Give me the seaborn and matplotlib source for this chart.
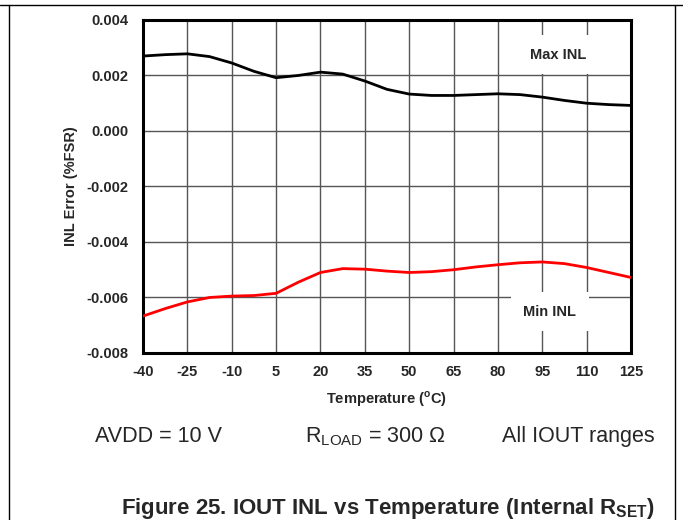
import numpy as np
import pandas as pd
import seaborn as sns
import matplotlib.pyplot as plt
from matplotlib.lines import Line2D

# Data
temp = [-40, -32.5, -25, -17.5, -10, -2.5, 5, 12.5, 20, 27.5, 35, 42.5, 50,
        57.5, 65, 72.5, 80, 87.5, 95, 102.5, 110, 117.5, 125]
max_inl = [0.00270, 0.00275, 0.00278, 0.00268, 0.00245, 0.00215, 0.00192, 0.00200, 0.00212,
           0.00205, 0.00180, 0.00150, 0.00133, 0.00128, 0.00128, 0.00131, 0.00134, 0.00131,
           0.00122, 0.00110, 0.00100, 0.00095, 0.00092]
min_inl = [-0.00667, -0.00640, -0.00616, -0.00600, -0.00595, -0.00593, -0.00585, -0.00545,
           -0.00510, -0.00496, -0.00498, -0.00505, -0.00510, -0.00507, -0.00500, -0.00490,
           -0.00482, -0.00475, -0.00472, -0.00478, -0.00492, -0.00510, -0.00528]
x_ticks = [-40, -25, -10, 5, 20, 35, 50, 65, 80, 95, 110, 125]
y_ticks = [-0.008, -0.006, -0.004, -0.002, 0.0, 0.002, 0.004]

df = pd.DataFrame({"temp": temp * 2,
                   "inl": max_inl + min_inl,
                   "series": ["Max INL"] * len(temp) + ["Min INL"] * len(temp)})

sns.set_style("white")
plt.rcParams['font.family'] = ['Liberation Sans', 'DejaVu Sans']

fig = plt.figure(figsize=(6.83, 5.20), dpi=100)
ax = fig.add_axes([0.2094, 0.3212, 0.7145, 0.6404])

sns.lineplot(data=df, x="temp", y="inl", hue="series",
             palette={"Max INL": "black", "Min INL": "#ff0000"},
             linewidth=2, legend=False, ax=ax, zorder=3)

ax.set_xlim(-40, 125)
ax.set_ylim(-0.008, 0.004)
ax.set_xticks(x_ticks)
ax.set_yticks(y_ticks)
ax.set_xticklabels([str(t) for t in x_ticks], fontsize=10.5, fontweight='bold')
ax.set_yticklabels([f"{v:.3f}" for v in y_ticks], fontsize=10.5, fontweight='bold')
ax.tick_params(axis='y', length=0, pad=10.5)
ax.tick_params(axis='x', length=0, pad=9)
ax.grid(True, color="#555555", linewidth=1)
ax.set_axisbelow(True)
for s in ax.spines.values():
    s.set_color("black")
    s.set_linewidth(2.2)

ax.set_xlabel("Temperature ($^\\mathregular{o}$C)", fontsize=10.5, fontweight='bold', labelpad=7)
ax.set_ylabel("INL Error (%FSR)", fontsize=10.5, fontweight='bold', labelpad=6)

box = dict(facecolor="white", edgecolor="none", pad=9)
ax.text(100.5, 0.00274, "Max INL", fontsize=10.5, fontweight='bold', ha='center', va='center',
        bbox=box, zorder=4)
ax.text(97.5, -0.00652, "Min INL", fontsize=10.5, fontweight='bold', ha='center', va='center',
        bbox=box, zorder=4)

fig.text(0.139, 0.15, "AVDD = 10 V", fontsize=15.5, ha='left', va='baseline')
fig.text(0.4466, 0.15, "R$_\\mathregular{LOAD}$ = 300 Ω", fontsize=15.5, ha='left', va='baseline')
fig.text(0.735, 0.15, "All IOUT ranges", fontsize=15.5, ha='left', va='baseline')
fig.text(0.568, 0.0115, "Figure 25. IOUT INL vs Temperature (Internal R$_\\mathregular{SET}$)",
         fontsize=16, fontweight='bold', ha='center', va='baseline')

# page frame lines
fig.add_artist(Line2D([0, 1], [0.99, 0.99], color="black", linewidth=1))
fig.add_artist(Line2D([0.013, 0.013], [0, 0.99], color="black", linewidth=1))
fig.add_artist(Line2D([0.988, 0.988], [0, 0.99], color="black", linewidth=1))

fig.savefig("out.png", dpi=100)
